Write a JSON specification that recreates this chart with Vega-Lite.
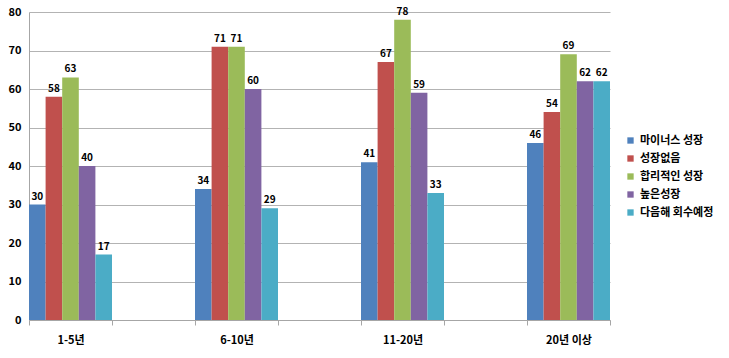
{
  "$schema": "https://vega.github.io/schema/vega-lite/v6.json",
  "autosize": "none",
  "width": 581,
  "height": 308,
  "padding": {"left": 29, "top": 12, "right": 119, "bottom": 38},
  "background": "white",
  "config": {
    "view": {"stroke": null},
    "font": "Noto Sans CJK KR"
  },
  "data": {
    "values": [
      {"group": "1-5년", "series": "마이너스 성장", "v": 30},
      {"group": "1-5년", "series": "성장없음", "v": 58},
      {"group": "1-5년", "series": "합리적인 성장", "v": 63},
      {"group": "1-5년", "series": "높은성장", "v": 40},
      {"group": "1-5년", "series": "다음해 회수예정", "v": 17},
      {"group": "6-10년", "series": "마이너스 성장", "v": 34},
      {"group": "6-10년", "series": "성장없음", "v": 71},
      {"group": "6-10년", "series": "합리적인 성장", "v": 71},
      {"group": "6-10년", "series": "높은성장", "v": 60},
      {"group": "6-10년", "series": "다음해 회수예정", "v": 29},
      {"group": "11-20년", "series": "마이너스 성장", "v": 41},
      {"group": "11-20년", "series": "성장없음", "v": 67},
      {"group": "11-20년", "series": "합리적인 성장", "v": 78},
      {"group": "11-20년", "series": "높은성장", "v": 59},
      {"group": "11-20년", "series": "다음해 회수예정", "v": 33},
      {"group": "20년 이상", "series": "마이너스 성장", "v": 46},
      {"group": "20년 이상", "series": "성장없음", "v": 54},
      {"group": "20년 이상", "series": "합리적인 성장", "v": 69},
      {"group": "20년 이상", "series": "높은성장", "v": 62},
      {"group": "20년 이상", "series": "다음해 회수예정", "v": 62}
    ]
  },
  "encoding": {
    "x": {
      "field": "group",
      "type": "nominal",
      "scale": {
        "domain": ["1-5년", "_a", "6-10년", "_b", "11-20년", "_c", "20년 이상"],
        "paddingInner": 0,
        "paddingOuter": 0
      },
      "axis": {
        "title": null,
        "labelAngle": 0,
        "labelExpr": "slice(datum.label, 0, 1) == '_' ? '' : datum.label",
        "labelFontWeight": "bold",
        "labelFontSize": 11,
        "labelColor": "#000000",
        "labelPadding": 9,
        "tickBand": "extent",
        "tickColor": "#a6a6a6",
        "tickSize": 5,
        "domainColor": "#a6a6a6",
        "grid": false
      }
    },
    "xOffset": {
      "field": "series",
      "type": "nominal",
      "scale": {
        "domain": ["마이너스 성장", "성장없음", "합리적인 성장", "높은성장", "다음해 회수예정"],
        "paddingInner": 0,
        "paddingOuter": 0
      }
    },
    "y": {
      "field": "v",
      "type": "quantitative",
      "scale": {"domain": [0, 80], "nice": false},
      "axis": {
        "title": null,
        "tickCount": 8,
        "ticks": false,
        "labelFontWeight": "bold",
        "labelFontSize": 11,
        "labelColor": "#000000",
        "labelPadding": 8,
        "domainColor": "#a6a6a6",
        "gridColor": "#b3b3b3",
        "gridWidth": 1
      }
    }
  },
  "layer": [
    {
      "mark": {"type": "bar"},
      "encoding": {
        "color": {
          "field": "series",
          "type": "nominal",
          "scale": {
            "domain": ["마이너스 성장", "성장없음", "합리적인 성장", "높은성장", "다음해 회수예정"],
            "range": ["#4F81BD", "#C0504D", "#9BBB59", "#8064A2", "#4BACC6"]
          },
          "legend": {
            "title": null,
            "orient": "none",
            "legendX": 596,
            "legendY": 123,
            "symbolType": "square",
            "symbolSize": 40,
            "labelFontSize": 11,
            "labelFontWeight": "bold",
            "labelColor": "#000000",
            "rowPadding": 6
          }
        }
      }
    },
    {
      "mark": {
        "type": "text",
        "dy": -8,
        "fontWeight": "bold",
        "fontSize": 10,
        "color": "#000000"
      },
      "encoding": {
        "text": {"field": "v", "type": "quantitative"}
      }
    }
  ]
}
